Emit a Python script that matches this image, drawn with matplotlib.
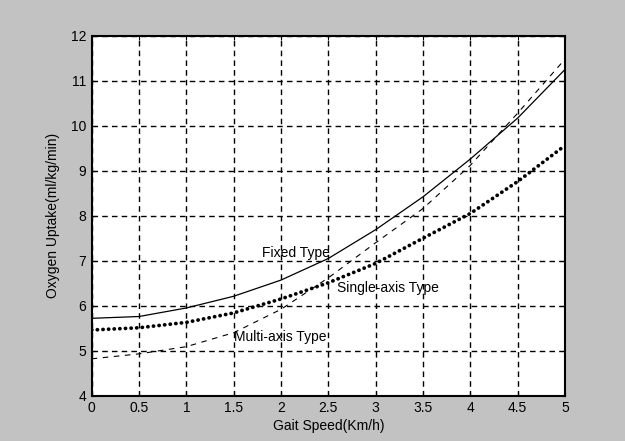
import matplotlib
matplotlib.use("Agg")
import matplotlib.pyplot as plt

# Data
speed = [0, 0.5, 1, 1.5, 2, 2.5, 3, 3.5, 4, 4.5, 5]
fixed_type = [5.72, 5.76, 5.95, 6.21, 6.57, 7.05, 7.69, 8.42, 9.26, 10.17, 11.25]
single_axis = [5.46, 5.51, 5.63, 5.84, 6.15, 6.51, 6.94, 7.50, 8.05, 8.76, 9.56]
multi_axis = [4.82, 4.93, 5.09, 5.40, 5.92, 6.62, 7.40, 8.16, 9.12, 10.28, 11.48]

x_ticks = [0, 0.5, 1, 1.5, 2, 2.5, 3, 3.5, 4, 4.5, 5]
x_ticklabels = ["0", "0.5", "1", "1.5", "2", "2.5", "3", "3.5", "4", "4.5", "5"]
y_ticks = [4, 5, 6, 7, 8, 9, 10, 11, 12]

labels = ["Fixed Type", "Single-axis Type", "Multi-axis Type"]
label_pos = [(1.80, 7.18), (2.59, 6.39), (1.50, 5.31)]

plt.rcParams['font.family'] = ['Liberation Sans', 'DejaVu Sans']

fig = plt.figure(figsize=(6.25, 4.41), dpi=100, facecolor='#c2c2c2')
ax = fig.add_axes([0.1467, 0.1027, 0.7573, 0.8163])
ax.set_facecolor('white')

ax.plot(speed, fixed_type, color='black', linewidth=0.9, solid_joinstyle='round')
ax.plot(speed, single_axis, color='black', linewidth=2.7,
        linestyle=(0, (0.05, 1.45)), dash_capstyle='round')
ax.plot(speed, multi_axis, color='black', linewidth=0.8, linestyle=(0, (5, 5)))

for t, (px, py) in zip(labels, label_pos):
    ax.text(px, py, t, fontsize=10, ha='left', va='center', color='black')

ax.set_xlim(0, 5)
ax.set_ylim(4, 12)
ax.set_xticks(x_ticks)
ax.set_xticklabels(x_ticklabels)
ax.set_yticks(y_ticks)
ax.grid(True, color='black', linestyle=(0, (4, 3)), linewidth=1.0)
ax.tick_params(direction='in', length=3, labelsize=10, top=True, right=True, pad=4)
for s in ax.spines.values():
    s.set_linewidth(1.5)

ax.set_xlabel("Gait Speed(Km/h)", fontsize=10, labelpad=3)
ax.set_ylabel("Oxygen Uptake(ml/kg/min)", fontsize=10, labelpad=8)

fig.savefig("out.png", dpi=100, facecolor=fig.get_facecolor())
